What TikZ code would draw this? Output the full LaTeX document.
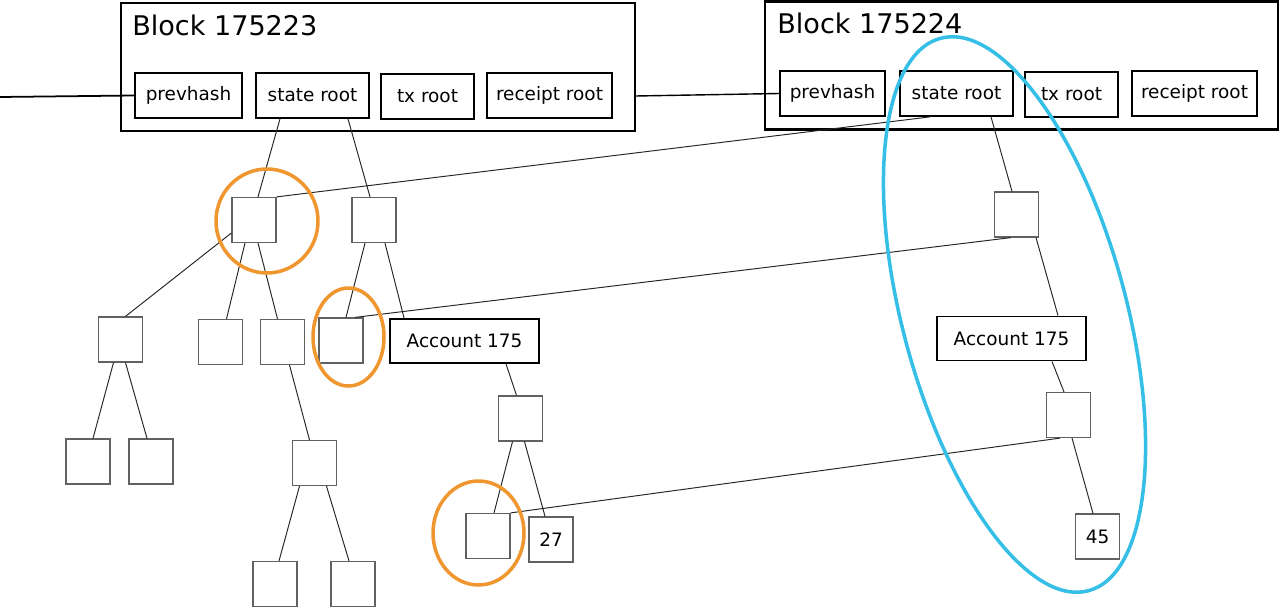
\documentclass[tikz,border=0pt]{standalone}
\usepackage{fontspec}
\setmainfont{DejaVu Sans}
\definecolor{trieorange}{HTML}{F0962F}
\definecolor{trieblue}{HTML}{35BEE6}

\begin{document}
\begin{tikzpicture}[x=0.02cm, y=-0.02cm, font=\fontsize{10.5}{12}\selectfont,
	block/.style={draw, line width=1.3pt, minimum width=10.28cm, minimum height=2.56cm},
	title/.style={anchor=base west, inner sep=0pt, font=\fontsize{15.4}{18}\selectfont},
	field/.style={draw, line width=1pt, minimum height=0.9cm, inner sep=0pt},
	sq/.style={draw=black!62, line width=0.7pt, minimum width=0.88cm, minimum height=0.9cm, inner sep=0pt},
	acct/.style={draw, line width=1.1pt, minimum width=2.98cm, minimum height=0.88cm, inner sep=0pt},
	link/.style={draw=black!85, line width=0.55pt},
	ring/.style={draw=trieorange, line width=2pt}]
	\useasboundingbox (0,0) rectangle (1280,608);
	% block 175223
	\node[block] (b1) at (378,67) {};
	\node[title] at (132,36) {Block 175223};
	\node[field, minimum width=2.14cm] (ph1) at (188.5,95.5) {prevhash};
	\node[field, minimum width=2.26cm] (sr1) at (312.5,95.5) {state root};
	\node[field, minimum width=1.86cm] (tx1) at (427.5,96.5) {tx root};
	\node[field, minimum width=2.5cm] (rr1) at (549.5,95.5) {receipt root};
	% block 175224
	\node[block, minimum width=10.26cm] (b2) at (1021.5,65.5) {};
	\node[title] at (777,34) {Block 175224};
	\node[field, minimum width=2.1cm] (ph2) at (832.5,93.5) {prevhash};
	\node[field, minimum width=2.26cm] (sr2) at (956.5,93.5) {state root};
	\node[field, minimum width=1.86cm] (tx2) at (1071.5,94.5) {tx root};
	\node[field, minimum width=2.5cm] (rr2) at (1194.5,93.5) {receipt root};
	\coordinate (prev) at (0,97);
	\draw[line width=1pt] (prev) -- (ph1.west);
	\draw[line width=0.8pt] ([yshift=-0.58cm]b1.east) -- (ph2.west);
	% old state trie
	\node[sq] (k1) at (254,220) {};
	\node[sq] (k2) at (374,220) {};
	\node[sq] (k3) at (120.5,339.5) {};
	\node[sq] (k4) at (220.5,342) {};
	\node[sq] (k5) at (282.5,342) {};
	\node[sq] (k6) at (341,340.5) {};
	\node[acct] (acc1) at (464.5,341) {Account 175};
	\node[sq] (k7) at (88,461.5) {};
	\node[sq] (k8) at (151,461.5) {};
	\node[sq] (k9) at (314.5,463) {};
	\node[sq] (k10) at (520.5,418.5) {};
	\node[sq] (k11) at (275,584) {};
	\node[sq] (k12) at (353,584) {};
	\node[sq] (k13) at (488,536) {};
	\node[sq] (v27) at (551,539.5) {27};
	\draw[link] ([xshift=-0.65cm]sr1.south) -- ([xshift=0.08cm]k1.north);
	\draw[link] ([xshift=0.71cm]sr1.south) -- ([xshift=-0.08cm]k2.north);
	\draw[link] ([yshift=-0.26cm]k1.west) -- ([xshift=0.1cm]k3.north);
	\draw[link] ([xshift=-0.18cm]k1.south) -- ([xshift=0.12cm]k4.north);
	\draw[link] ([xshift=0.08cm]k1.south) -- ([xshift=-0.1cm]k5.north);
	\draw[link] ([xshift=-0.18cm]k2.south) -- ([xshift=0.1cm]k6.north);
	\draw[link] ([xshift=0.22cm]k2.south) -- ([xshift=0.3cm]acc1.north west);
	\draw[link] ([xshift=-0.14cm]k3.south) -- ([xshift=0.1cm]k7.north);
	\draw[link] ([xshift=0.1cm]k3.south) -- ([xshift=-0.08cm]k8.north);
	\draw[link] ([xshift=0.14cm]k5.south) -- ([xshift=-0.1cm]k9.north);
	\draw[link] ([xshift=0.83cm]acc1.south) -- ([xshift=-0.08cm]k10.north);
	\draw[link] ([xshift=-0.3cm]k9.south) -- ([xshift=0.08cm]k11.north);
	\draw[link] ([xshift=0.24cm]k9.south) -- ([xshift=-0.08cm]k12.north);
	\draw[link] ([xshift=-0.16cm]k10.south) -- ([xshift=0.12cm]k13.north);
	\draw[link] ([xshift=0.08cm]k10.south) -- ([xshift=-0.12cm]v27.north);
	% new state trie
	\node[sq] (q1) at (1016.5,214.5) {};
	\node[acct] (acc2) at (1011.5,338.5) {Account 175};
	\node[sq] (q2) at (1068.5,415) {};
	\node[sq] (v45) at (1097.5,536.5) {45};
	\draw[link] ([xshift=0.69cm]sr2.south) -- ([xshift=-0.09cm]q1.north);
	\draw[link] ([xshift=0.39cm]q1.south) -- ([xshift=0.93cm]acc2.north);
	\draw[link] ([xshift=0.81cm]acc2.south) -- ([xshift=-0.09cm]q2.north);
	\draw[link] ([xshift=0.07cm]q2.south) -- ([xshift=-0.09cm]v45.north);
	% shared subtries
	\draw[link] (k1.north east) -- ([xshift=-0.53cm]sr2.south);
	\draw[link] ([xshift=0.28cm]k6.north) -- ([xshift=-0.11cm]q1.south);
	\draw[link] (k13.north east) -- ([xshift=-0.17cm]q2.south);
	% highlights
	\draw[ring] (267,221) ellipse [x radius=1.02cm, y radius=1.04cm];
	\draw[ring] (348.5,337) ellipse [x radius=0.71cm, y radius=0.98cm];
	\draw[ring] (478.5,533) ellipse [x radius=0.91cm, y radius=1.04cm];
	\coordinate (hl) at (1014.5,314.5);
	\draw[draw=trieblue, line width=2pt, rotate around={15:(hl)}] (hl) ellipse [x radius=2.24cm, y radius=5.72cm];
\end{tikzpicture}
\end{document}
